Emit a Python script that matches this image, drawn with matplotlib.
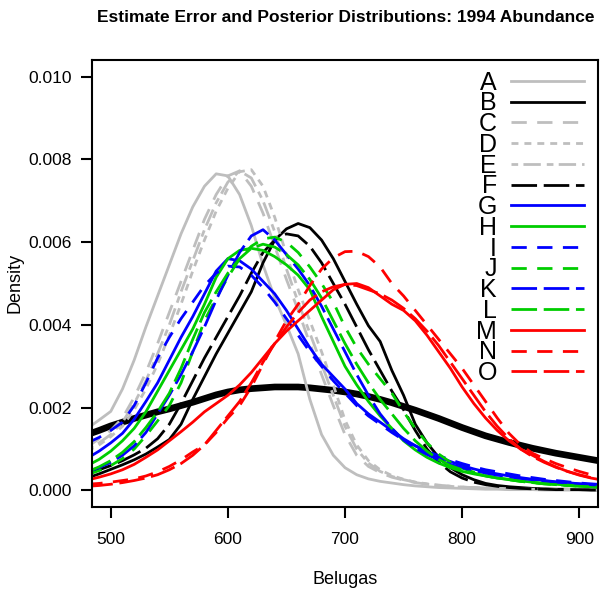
import numpy as np
import matplotlib
matplotlib.use("Agg")
from matplotlib import pyplot as plt
from matplotlib.ticker import FormatStrFormatter

plt.rcParams['font.family'] = ['Liberation Sans', 'DejaVu Sans']
plt.rcParams['lines.scale_dashes'] = False

# x grid (belugas) and densities, in units of 1e-3
belugas = np.arange(480, 921, 10)

prior = [1.35, 1.45, 1.56, 1.65, 1.74, 1.82, 1.90, 1.97, 2.05, 2.13,
         2.22, 2.31, 2.38, 2.43, 2.46, 2.48, 2.50, 2.50, 2.50, 2.48,
         2.45, 2.42, 2.38, 2.33, 2.27, 2.20, 2.12, 2.03, 1.94, 1.84,
         1.74, 1.63, 1.52, 1.42, 1.32, 1.24, 1.16, 1.09, 1.02, 0.96,
         0.90, 0.85, 0.80, 0.75, 0.70]

A = [1.50, 1.70, 1.91, 2.45, 3.15, 3.95, 4.70, 5.45, 6.20, 6.85,
     7.35, 7.65, 7.60, 7.15, 6.40, 5.45, 4.65, 4.00, 3.30, 2.20,
     1.35, 0.85, 0.55, 0.38, 0.28, 0.22, 0.18, 0.14, 0.11, 0.09,
     0.07, 0.06, 0.05, 0.04, 0.03, 0.03, 0.02, 0.02, 0.02, 0.01,
     0.01, 0.01, 0.01, 0.01, 0.01]
B = [0.30, 0.40, 0.51, 0.62, 0.74, 0.88, 1.05, 1.23, 1.60, 2.20,
     2.75, 3.30, 3.80, 4.30, 4.80, 5.50, 6.05, 6.32, 6.45, 6.35,
     6.05, 5.60, 5.05, 4.50, 3.98, 3.60, 2.90, 2.30, 1.60, 1.15,
     0.80, 0.55, 0.38, 0.26, 0.17, 0.12, 0.09, 0.07, 0.05, 0.04,
     0.03, 0.03, 0.02, 0.02, 0.01]
C = [1.05, 1.25, 1.45, 1.75, 2.25, 2.85, 3.55, 4.30, 5.05, 5.80,
     6.55, 7.15, 7.60, 7.72, 7.35, 6.70, 5.90, 5.10, 4.35, 3.55,
     2.80, 2.05, 1.35, 0.85, 0.58, 0.43, 0.32, 0.25, 0.19, 0.15,
     0.12, 0.10, 0.08, 0.07, 0.06, 0.05, 0.04, 0.04, 0.03, 0.03,
     0.02, 0.02, 0.02, 0.01, 0.01]
D = [0.95, 1.10, 1.30, 1.55, 1.95, 2.45, 3.05, 3.75, 4.50, 5.30,
     6.05, 6.75, 7.30, 7.70, 7.75, 7.35, 6.60, 5.70, 4.85, 4.10,
     3.35, 2.55, 1.70, 1.10, 0.72, 0.50, 0.36, 0.27, 0.20, 0.16,
     0.13, 0.10, 0.08, 0.07, 0.06, 0.05, 0.04, 0.04, 0.03, 0.03,
     0.02, 0.02, 0.02, 0.01, 0.01]
E = [1.00, 1.15, 1.35, 1.65, 2.10, 2.65, 3.30, 4.00, 4.80, 5.55,
     6.30, 6.95, 7.45, 7.72, 7.55, 7.00, 6.25, 5.35, 4.55, 3.80,
     3.05, 2.30, 1.55, 1.00, 0.66, 0.46, 0.34, 0.26, 0.20, 0.15,
     0.12, 0.10, 0.08, 0.07, 0.06, 0.05, 0.04, 0.04, 0.03, 0.03,
     0.02, 0.02, 0.02, 0.01, 0.01]
F = [0.40, 0.50, 0.60, 0.72, 0.86, 1.02, 1.25, 1.60, 2.10, 2.65,
     3.20, 3.70, 4.20, 4.70, 5.25, 5.75, 6.05, 6.20, 6.15, 5.90,
     5.50, 5.00, 4.50, 3.95, 3.40, 2.90, 2.40, 1.95, 1.45, 1.00,
     0.68, 0.45, 0.30, 0.20, 0.14, 0.10, 0.07, 0.05, 0.04, 0.03,
     0.02, 0.02, 0.02, 0.01, 0.01]
G = [0.78, 0.95, 1.15, 1.38, 1.72, 2.15, 2.60, 3.15, 3.70, 4.20,
     4.75, 5.30, 5.60, 5.55, 5.35, 5.05, 4.75, 4.35, 3.90, 3.45,
     3.05, 2.75, 2.45, 2.10, 1.85, 1.65, 1.45, 1.25, 1.08, 0.92,
     0.80, 0.70, 0.60, 0.52, 0.45, 0.40, 0.35, 0.31, 0.27, 0.24,
     0.21, 0.19, 0.16, 0.14, 0.12]
H = [0.60, 0.75, 0.95, 1.20, 1.50, 1.90, 2.40, 2.90, 3.40, 3.90,
     4.50, 5.15, 5.60, 5.80, 5.85, 5.80, 5.65, 5.45, 5.20, 4.85,
     4.20, 3.60, 3.00, 2.55, 2.15, 1.80, 1.50, 1.20, 0.98, 0.80,
     0.66, 0.55, 0.46, 0.40, 0.35, 0.30, 0.27, 0.23, 0.20, 0.17,
     0.15, 0.13, 0.11, 0.09, 0.08]
I = [1.15, 1.28, 1.45, 1.65, 2.05, 2.60, 3.20, 3.70, 4.15, 4.55,
     4.95, 5.25, 5.42, 5.40, 5.20, 4.90, 4.55, 4.15, 3.75, 3.35,
     3.00, 2.65, 2.35, 2.05, 1.80, 1.60, 1.40, 1.22, 1.08, 0.95,
     0.84, 0.74, 0.65, 0.57, 0.50, 0.45, 0.40, 0.35, 0.31, 0.27,
     0.24, 0.21, 0.18, 0.16, 0.14]
J = [0.38, 0.48, 0.60, 0.77, 1.00, 1.32, 1.68, 2.05, 2.60, 3.35,
     4.10, 4.65, 5.15, 5.60, 5.90, 6.08, 6.12, 6.00, 5.75, 5.40,
     5.00, 4.55, 3.95, 3.45, 3.05, 2.70, 2.35, 1.90, 1.50, 1.15,
     0.88, 0.68, 0.54, 0.44, 0.36, 0.30, 0.26, 0.22, 0.19, 0.16,
     0.14, 0.12, 0.10, 0.09, 0.08]
K = [0.45, 0.55, 0.68, 0.85, 1.08, 1.40, 1.85, 2.30, 2.80, 3.35,
     3.95, 4.60, 5.20, 5.75, 6.15, 6.30, 6.05, 5.70, 5.35, 4.95,
     4.45, 3.90, 3.35, 2.80, 2.30, 1.85, 1.50, 1.22, 1.02, 0.87,
     0.74, 0.63, 0.55, 0.48, 0.42, 0.37, 0.33, 0.29, 0.26, 0.23,
     0.20, 0.18, 0.16, 0.14, 0.12]
L = [0.45, 0.57, 0.72, 0.92, 1.18, 1.52, 1.90, 2.35, 2.95, 3.65,
     4.30, 4.80, 5.25, 5.60, 5.85, 5.95, 5.88, 5.70, 5.45, 5.10,
     4.65, 4.10, 3.55, 3.05, 2.60, 2.20, 1.85, 1.50, 1.20, 0.95,
     0.75, 0.60, 0.50, 0.42, 0.35, 0.30, 0.26, 0.22, 0.19, 0.16,
     0.14, 0.12, 0.10, 0.09, 0.08]
M = [0.25, 0.32, 0.40, 0.50, 0.63, 0.80, 0.98, 1.20, 1.42, 1.65,
     1.90, 2.10, 2.30, 2.55, 2.85, 3.20, 3.55, 3.85, 4.10, 4.35,
     4.60, 4.85, 4.98, 5.00, 4.90, 4.70, 4.50, 4.35, 4.10, 3.75,
     3.35, 2.95, 2.50, 2.10, 1.75, 1.45, 1.20, 1.00, 0.85, 0.70,
     0.57, 0.46, 0.37, 0.30, 0.25]
N = [0.15, 0.17, 0.20, 0.24, 0.28, 0.35, 0.45, 0.58, 0.74, 0.93,
     1.10, 1.40, 1.75, 2.05, 2.50, 3.05, 3.60, 4.10, 4.50, 4.95,
     5.35, 5.62, 5.77, 5.78, 5.65, 5.40, 5.00, 4.70, 4.35, 4.00,
     3.65, 3.30, 2.95, 2.55, 2.15, 1.75, 1.38, 1.10, 0.90, 0.77,
     0.65, 0.55, 0.46, 0.38, 0.32]
O = [0.10, 0.12, 0.15, 0.19, 0.24, 0.30, 0.38, 0.50, 0.65, 0.85,
     1.10, 1.45, 1.80, 2.15, 2.60, 3.10, 3.55, 3.95, 4.30, 4.60,
     4.80, 4.92, 4.98, 4.95, 4.85, 4.75, 4.60, 4.40, 4.15, 3.85,
     3.50, 3.10, 2.70, 2.30, 1.90, 1.55, 1.25, 1.00, 0.82, 0.68,
     0.56, 0.46, 0.38, 0.31, 0.26]

GRAY, BLACK, BLUE, GREEN, RED = "#bebebe", "black", "#0000ff", "#00cd00", "#ff0000"
solid = "-"
dashed = (0, (11, 7.5))
dotted = (0, (5, 4.3))
dotdash = (0, (4.8, 3.8, 12.5, 4.3))
longdash = (0, (18.4, 4.8))

series = [
    ("A", A, GRAY, solid), ("B", B, BLACK, solid), ("C", C, GRAY, dashed),
    ("D", D, GRAY, dotted), ("E", E, GRAY, dotdash), ("F", F, BLACK, longdash),
    ("G", G, BLUE, solid), ("H", H, GREEN, solid), ("I", I, BLUE, dashed),
    ("J", J, GREEN, dashed), ("K", K, BLUE, longdash), ("L", L, GREEN, longdash),
    ("M", M, RED, solid), ("N", N, RED, dashed), ("O", O, RED, longdash),
]

fig = plt.figure(figsize=(6.01, 5.93), dpi=100)
ax = fig.add_axes([0.1531, 0.1450, 0.8419, 0.7538])

ax.plot(belugas, np.array(prior) / 1000, color="black", lw=4.8)
for lab, vals, col, ls in series:
    ax.plot(belugas, np.array(vals) / 1000, color=col, ls=ls, lw=2, label=lab)

ax.set_xlim(484, 916)
ax.set_ylim(-0.0004, 0.0104)
ax.set_xticks([500, 600, 700, 800, 900])
ax.set_yticks([0, 0.002, 0.004, 0.006, 0.008, 0.010])
ax.yaxis.set_major_formatter(FormatStrFormatter("%.3f"))
ax.tick_params(direction="out", length=8, width=1.5, labelsize=12.5)
ax.tick_params(axis="x", pad=10)
ax.tick_params(axis="y", pad=6.5)
for sp in ax.spines.values():
    sp.set_linewidth(1.5)

ax.legend(loc="upper right", bbox_to_anchor=(0.972, 0.976), borderaxespad=0,
          borderpad=0, frameon=False, markerfirst=False, fontsize=18,
          handlelength=2.92, handletextpad=0.55, labelspacing=-0.13)

fig.text(345 / 601, 1 - 580 / 593, "Belugas", ha="center", va="center", fontsize=13)
fig.text(15 / 601, 1 - 283 / 593, "Density", ha="center", va="center",
         rotation=90, fontsize=13)
fig.text(346 / 601, 1 - 18 / 593,
         "Estimate Error and Posterior Distributions: 1994 Abundance",
         ha="center", va="center", fontsize=12.5, fontweight="bold")

fig.savefig("out.png", dpi=100)
